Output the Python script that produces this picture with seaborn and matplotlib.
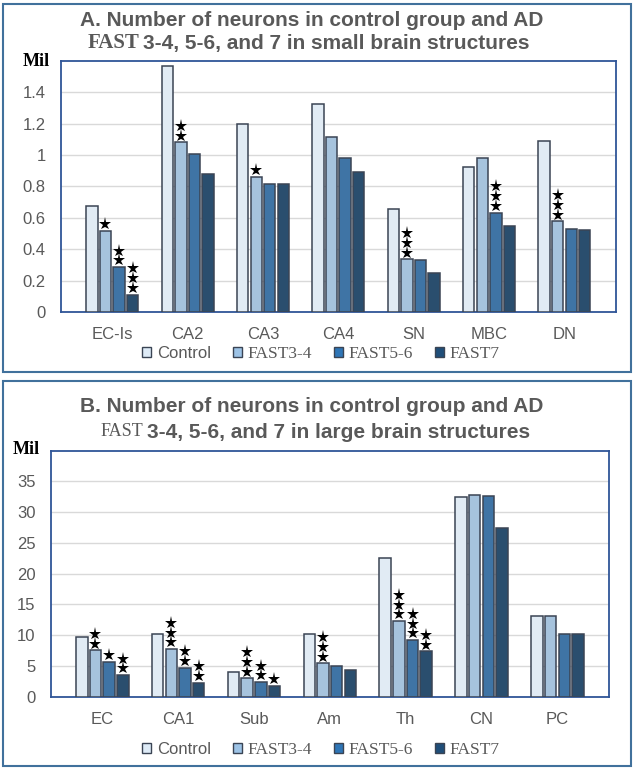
import pandas as pd
import matplotlib.pyplot as plt
import seaborn as sns
from matplotlib.patches import Patch, Rectangle
from matplotlib.transforms import offset_copy

# values (millions of neurons)
groups = ['Control', 'FAST3-4', 'FAST5-6', 'FAST7']
colors = ['#DEEBF7', '#9DC3E6', '#2E75B6', '#1F4E79']

cats_a = ['EC-Is', 'CA2', 'CA3', 'CA4', 'SN', 'MBC', 'DN']
control_a = [0.673, 1.565, 1.20, 1.327, 0.656, 0.922, 1.087]
fast34_a = [0.516, 1.081, 0.862, 1.117, 0.336, 0.983, 0.578]
fast56_a = [0.287, 1.009, 0.815, 0.981, 0.331, 0.633, 0.529]
fast7_a = [0.111, 0.879, 0.815, 0.890, 0.246, 0.550, 0.522]
stars_a = [[0, 0, 0, 0, 0, 0, 0],
           [1, 2, 1, 0, 3, 0, 3],
           [2, 0, 0, 0, 0, 3, 0],
           [3, 0, 0, 0, 0, 0, 0]]
yticks_a = [0, 0.2, 0.4, 0.6, 0.8, 1, 1.2, 1.4]

cats_b = ['EC', 'CA1', 'Sub', 'Am', 'Th', 'CN', 'PC']
control_b = [9.66, 10.25, 4.02, 10.2, 22.6, 32.4, 13.1]
fast34_b = [7.55, 7.76, 2.99, 5.43, 12.3, 32.8, 13.1]
fast56_b = [5.65, 4.72, 2.39, 5.04, 9.22, 32.6, 10.2]
fast7_b = [3.53, 2.28, 1.79, 4.34, 7.38, 27.4, 10.2]
stars_b = [[0, 0, 0, 0, 0, 0, 0],
           [2, 3, 3, 3, 3, 0, 0],
           [1, 2, 2, 0, 3, 0, 0],
           [2, 2, 1, 0, 2, 0, 0]]
yticks_b = [0, 5, 10, 15, 20, 25, 30, 35]

sns.set_style('white')
plt.rcParams['font.family'] = ['Liberation Sans', 'DejaVu Sans']

SANS = 'Liberation Sans'
SERIF = 'Liberation Serif'
GRAY = '#595959'
W, H = 633, 771


def long_df(cats, series):
    rows = []
    for g, vals in zip(groups, series):
        for c, v in zip(cats, vals):
            rows.append({'cat': c, 'group': g, 'value': v})
    return pd.DataFrame(rows)


def draw_panel(fig, rect, cats, series, stars, yticks, ymax):
    ax = fig.add_axes(rect)
    df = long_df(cats, series)
    sns.barplot(data=df, x='cat', y='value', hue='group', order=cats,
                hue_order=groups, palette=colors, width=0.72, gap=0.16,
                edgecolor='#3A4454', linewidth=1.1, legend=False, ax=ax,
                zorder=3)
    ax.set_ylim(0, ymax)
    ax.set_yticks(yticks)
    ax.set_yticklabels([f'{t:g}' for t in yticks])
    ax.yaxis.grid(True, color='#D9D9D9', lw=1, zorder=0)
    ax.set_axisbelow(True)
    ax.set_xlabel('')
    ax.set_ylabel('')
    ax.tick_params(length=0, labelsize=12, labelcolor=GRAY)
    ax.tick_params(axis='y', pad=11)
    ax.tick_params(axis='x', pad=11)
    for s in ax.spines.values():
        s.set_color('#2F5597')
        s.set_linewidth(1.3)

    # significance stars stacked above bars
    for j, cont in enumerate(ax.containers):
        for i, bar in enumerate(cont):
            n = stars[j][i]
            x = bar.get_x() + bar.get_width() / 2
            h = bar.get_height()
            for k in range(n):
                tr = offset_copy(ax.transData, fig=fig, x=0,
                                 y=4.8 + 7.0 * k, units='points')
                ax.plot([x], [h], marker='*', color='black', ms=9.5,
                        mew=0, transform=tr, clip_on=False, zorder=5)
    return ax


def legend(fig, ax, ypix):
    handles = [Patch(facecolor=c, edgecolor='#3A4454', lw=1.0) for c in colors]
    leg = ax.legend(handles, groups, loc='center', ncol=4,
                    bbox_to_anchor=(321 / W, 1 - ypix / H),
                    bbox_transform=fig.transFigure, frameon=False,
                    handlelength=0.55, handleheight=0.55, handletextpad=0.35,
                    columnspacing=1.3, fontsize=12)
    for i, t in enumerate(leg.get_texts()):
        t.set_color(GRAY)
        t.set_fontfamily(SANS if i == 0 else SERIF)
        if i > 0:
            t.set_fontsize(12.5)


def title(fig, letter, line2, y1, y2, split, fast_bold):
    fig.text(312 / W, 1 - y1 / H,
             f'{letter}. Number of neurons in control group and AD',
             ha='center', va='center', fontsize=15, fontweight='bold',
             color=GRAY, family=SANS)
    fig.text(split / W, 1 - y2 / H, 'FAST', ha='right', va='center',
             fontsize=15 if fast_bold else 13,
             fontweight='bold' if fast_bold else 'normal',
             color=GRAY, family=SERIF)
    fig.text((split + 4) / W, 1 - y2 / H, line2, ha='left', va='center',
             fontsize=15, fontweight='bold', color=GRAY, family=SANS)


fig = plt.figure(figsize=(W / 100, H / 100), dpi=100)

# outer panel frames
for (x0, y0, x1, y1) in [(3, 4, 631, 371.7), (3, 381, 631, 765.7)]:
    fig.patches.append(Rectangle((x0 / W, 1 - y1 / H), (x1 - x0) / W,
                                 (y1 - y0) / H, transform=fig.transFigure,
                                 fill=False, edgecolor='#41719C', lw=1.5))

ax_a = draw_panel(fig, [61 / W, 1 - 312 / H, 554.7 / W, 251.3 / H], cats_a,
                  [control_a, fast34_a, fast56_a, fast7_a], stars_a,
                  yticks_a, 1.6)
legend(fig, ax_a, 354)
title(fig, 'A', '3-4, 5-6, and 7 in small brain structures', 20.5, 43.5,
      139, True)
fig.text(36 / W, 1 - 61.5 / H, 'Mil', ha='center', va='center', fontsize=13,
         fontweight='bold', family=SERIF, color='black')

ax_b = draw_panel(fig, [50.7 / W, 1 - 696.7 / H, 558.3 / W, 246 / H], cats_b,
                  [control_b, fast34_b, fast56_b, fast7_b], stars_b,
                  yticks_b, 40)
legend(fig, ax_b, 750)
title(fig, 'B', '3-4, 5-6, and 7 in large brain structures', 406, 432,
      143, False)
fig.text(26.5 / W, 1 - 449 / H, 'Mil', ha='center', va='center', fontsize=13,
         fontweight='bold', family=SERIF, color='black')

plt.savefig('out.png', dpi=100)
